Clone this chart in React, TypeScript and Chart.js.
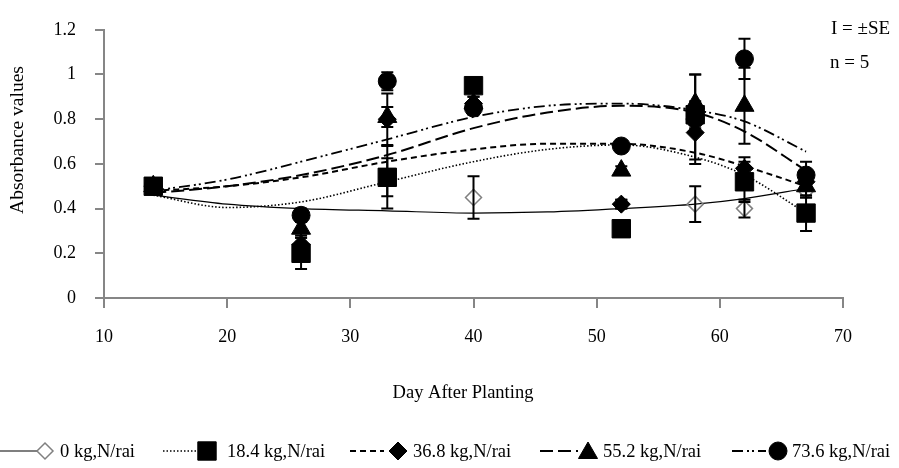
import React, { useEffect, useRef } from "react";
import { Chart, registerables } from "chart.js";

Chart.register(...registerables);

// ---- data ----
const days = [14, 26, 33, 40, 52, 58, 62, 67];
const seriesLabels = ["0 kg,N/rai", "18.4 kg,N/rai", "36.8 kg,N/rai", "55.2 kg,N/rai", "73.6 kg,N/rai"];
const n0 = [0.5, 0.22, 0.54, 0.45, 0.42, 0.42, 0.4, 0.48];
const se0 = [0.01, 0.02, 0.14, 0.095, 0.02, 0.08, 0.04, 0.03];
const n18 = [0.5, 0.2, 0.54, 0.95, 0.31, 0.82, 0.52, 0.38];
const se18 = [0.01, 0.07, 0.085, 0.03, 0.03, 0.06, 0.09, 0.08];
const n36 = [0.5, 0.24, 0.8, 0.87, 0.42, 0.74, 0.58, 0.52];
const se36 = [0.01, 0.03, 0.115, 0.03, 0.02, 0.12, 0.05, 0.04];
const n55 = [0.5, 0.31, 0.81, 0.87, 0.57, 0.87, 0.86, 0.5];
const se55 = [0.01, 0.03, 0.045, 0.03, 0.02, 0.13, 0.17, 0.05];
const n73 = [0.5, 0.37, 0.97, 0.85, 0.68, 0.8, 1.07, 0.55];
const se73 = [0.01, 0.03, 0.04, 0.03, 0.02, 0.2, 0.09, 0.06];

// trend lines
const trendDays = [14, 20, 26, 33, 40, 46, 52, 58, 62, 67];
const t0 = [0.46, 0.42, 0.4, 0.39, 0.38, 0.385, 0.4, 0.42, 0.445, 0.49];
const t18 = [0.46, 0.405, 0.43, 0.52, 0.61, 0.665, 0.685, 0.63, 0.55, 0.38];
const t36 = [0.48, 0.5, 0.54, 0.61, 0.665, 0.69, 0.69, 0.65, 0.59, 0.5];
const t55 = [0.47, 0.5, 0.55, 0.64, 0.76, 0.83, 0.86, 0.83, 0.745, 0.57];
const t73 = [0.48, 0.53, 0.61, 0.71, 0.81, 0.86, 0.87, 0.84, 0.79, 0.655];

const xTicks = [10, 20, 30, 40, 50, 60, 70];
const yTickLabels = ["0", "0.2", "0.4", "0.6", "0.8", "1", "1.2"];
const xTitle = "Day After Planting";
const yTitle = "Absorbance values";
const noteLines = ["I = \u00b1SE", "n = 5"];

const FONT = "'Liberation Serif', 'Times New Roman', serif";
const AXIS_GREY = "#868686";

const styles = [
  { pointStyle: "rectRot", radius: 8, fill: "rgba(255,255,255,0)", stroke: "#808080", bw: 1.5, dash: [] as number[], lw: 1.2 },
  { pointStyle: "rect", radius: 13, fill: "#000", stroke: "#000", bw: 1, dash: [1.5, 2], lw: 1.6 },
  { pointStyle: "rectRot", radius: 9, fill: "#000", stroke: "#000", bw: 1, dash: [6, 4], lw: 2 },
  { pointStyle: "triangle", radius: 11, fill: "#000", stroke: "#000", bw: 1, dash: [13, 5], lw: 2 },
  { pointStyle: "circle", radius: 9, fill: "#000", stroke: "#000", bw: 1, dash: [11, 4, 2, 3, 2, 4], lw: 1.8 },
];

const values = [n0, n18, n36, n55, n73];
const errors = [se0, se18, se36, se55, se73];
const trends = [t0, t18, t36, t55, t73];
const markerOrder = [6, 1, 4, 3, 2];

function drawMarker(ctx: CanvasRenderingContext2D, i: number, x: number, y: number) {
  const s = styles[i];
  ctx.save();
  ctx.fillStyle = s.fill;
  ctx.strokeStyle = s.stroke;
  ctx.lineWidth = s.bw;
  ctx.beginPath();
  const r = s.radius;
  if (s.pointStyle === "rectRot") {
    ctx.moveTo(x, y - r);
    ctx.lineTo(x + r, y);
    ctx.lineTo(x, y + r);
    ctx.lineTo(x - r, y);
    ctx.closePath();
  } else if (s.pointStyle === "rect") {
    const h = r * Math.SQRT1_2;
    ctx.rect(x - h, y - h, 2 * h, 2 * h);
  } else if (s.pointStyle === "triangle") {
    ctx.moveTo(x, y - r);
    ctx.lineTo(x + r * 0.866, y + r * 0.5);
    ctx.lineTo(x - r * 0.866, y + r * 0.5);
    ctx.closePath();
  } else {
    ctx.arc(x, y, r, 0, Math.PI * 2);
  }
  ctx.fill();
  ctx.stroke();
  ctx.restore();
}

const extrasPlugin = {
  id: "extras",
  afterDatasetsDraw(chart: any) {
    const ctx: CanvasRenderingContext2D = chart.ctx;
    const ys = chart.scales.y;
    ctx.save();
    ctx.strokeStyle = "#000";
    ctx.lineWidth = 2;
    for (let i = 0; i < 5; i++) {
      const meta = chart.getDatasetMeta(i + 5);
      const vals = values[i];
      const se = errors[i];
      meta.data.forEach((pt: any, j: number) => {
        const x = pt.x;
        const yt = ys.getPixelForValue(vals[j] + se[j]);
        const yb = ys.getPixelForValue(vals[j] - se[j]);
        ctx.beginPath();
        ctx.moveTo(x, yt);
        ctx.lineTo(x, yb);
        ctx.moveTo(x - 6, yt);
        ctx.lineTo(x + 6, yt);
        ctx.moveTo(x - 6, yb);
        ctx.lineTo(x + 6, yb);
        ctx.stroke();
      });
    }
    ctx.restore();
  },
  afterDraw(chart: any) {
    const ctx: CanvasRenderingContext2D = chart.ctx;
    const area = chart.chartArea;
    ctx.save();
    ctx.fillStyle = "#000";
    // axis titles
    ctx.font = `18.5px ${FONT}`;
    ctx.textAlign = "center";
    ctx.textBaseline = "middle";
    ctx.fillText(xTitle, 463, 393);
    ctx.save();
    ctx.font = `19.5px ${FONT}`;
    ctx.translate(18, 140);
    ctx.rotate(-Math.PI / 2);
    ctx.fillText(yTitle, 0, 0);
    ctx.restore();
    // note
    ctx.textAlign = "left";
    ctx.font = `19px ${FONT}`;
    ctx.fillText(noteLines[0], 831, 29);
    ctx.fillText(noteLines[1], 830, 63);
    // legend
    const legendY = 451;
    const items = [
      { x0: 0, x1: 37, mx: 45, tx: 60 },
      { x0: 163, x1: 197, mx: 207, tx: 227 },
      { x0: 350, x1: 384, mx: 398, tx: 413 },
      { x0: 540, x1: 578, mx: 588, tx: 603 },
      { x0: 732, x1: 766, mx: 778, tx: 792 },
    ];
    ctx.font = `18.5px ${FONT}`;
    ctx.textBaseline = "middle";
    items.forEach((it, i) => {
      const s = styles[i];
      ctx.save();
      ctx.strokeStyle = "#000";
      ctx.lineWidth = s.lw;
      ctx.setLineDash(s.dash);
      ctx.beginPath();
      ctx.moveTo(it.x0, legendY);
      ctx.lineTo(it.x1, legendY);
      ctx.stroke();
      ctx.restore();
      drawMarker(ctx, i, it.mx, legendY + (s.pointStyle === "triangle" ? 2 : 0));
      ctx.fillStyle = "#000";
      ctx.fillText(seriesLabels[i], it.tx, legendY + 1);
    });
    ctx.restore();
  },
};

export default function App() {
  const ref = useRef<HTMLCanvasElement | null>(null);
  useEffect(() => {
    document.body.style.margin = "0";
    const canvas = ref.current;
    if (!canvas) return;
    const trendSets = trends.map((t, i) => ({
      label: "trend " + seriesLabels[i],
      data: trendDays.map((d, k) => ({ x: d, y: t[k] })),
      showLine: true,
      pointRadius: 0,
      borderColor: "#000",
      borderWidth: styles[i].lw,
      borderDash: styles[i].dash,
      cubicInterpolationMode: "monotone" as const,
      fill: false,
      order: 20 + i,
    }));
    const markerSets = values.map((v, i) => ({
      label: seriesLabels[i],
      data: days.map((d, k) => ({ x: d, y: v[k] })),
      showLine: false,
      pointStyle: styles[i].pointStyle,
      pointRadius: styles[i].radius,
      pointBackgroundColor: styles[i].fill,
      pointBorderColor: styles[i].stroke,
      pointBorderWidth: styles[i].bw,
      order: markerOrder[i],
    }));
    const chart = new Chart(canvas, {
      type: "scatter",
      data: { datasets: [...trendSets, ...markerSets] as any },
      options: {
        animation: false,
        responsive: true,
        maintainAspectRatio: false,
        layout: { padding: { top: 16, right: 56, left: 0, bottom: 0 } },
        plugins: { legend: { display: false }, tooltip: { enabled: false } },
        scales: {
          x: {
            type: "linear",
            min: 10,
            max: 70,
            afterBuildTicks: (s: any) => {
              s.ticks = xTicks.map((v) => ({ value: v }));
            },
            afterFit: (s: any) => {
              s.height = 170;
            },
            ticks: { color: "#000", font: { family: FONT, size: 18 }, padding: 18, maxRotation: 0 },
            grid: { drawOnChartArea: false, drawTicks: true, tickLength: 10, color: AXIS_GREY, lineWidth: 2 },
            border: { color: AXIS_GREY, width: 2 },
          },
          y: {
            type: "linear",
            min: 0,
            max: 1.2,
            afterBuildTicks: (s: any) => {
              s.ticks = yTickLabels.map((_, k) => ({ value: k * 0.2 }));
            },
            afterFit: (s: any) => {
              s.width = 104;
            },
            ticks: {
              color: "#000",
              font: { family: FONT, size: 18 },
              padding: 19,
              callback: (_v: any, idx: number) => yTickLabels[idx],
            },
            grid: { drawOnChartArea: false, drawTicks: true, tickLength: 9, color: AXIS_GREY, lineWidth: 2 },
            border: { color: AXIS_GREY, width: 2 },
          },
        },
      },
      plugins: [extrasPlugin],
    });
    return () => chart.destroy();
  }, []);
  return (
    <div style={{ position: "relative", width: 899, height: 468 }}>
      <canvas ref={ref} />
    </div>
  );
}
